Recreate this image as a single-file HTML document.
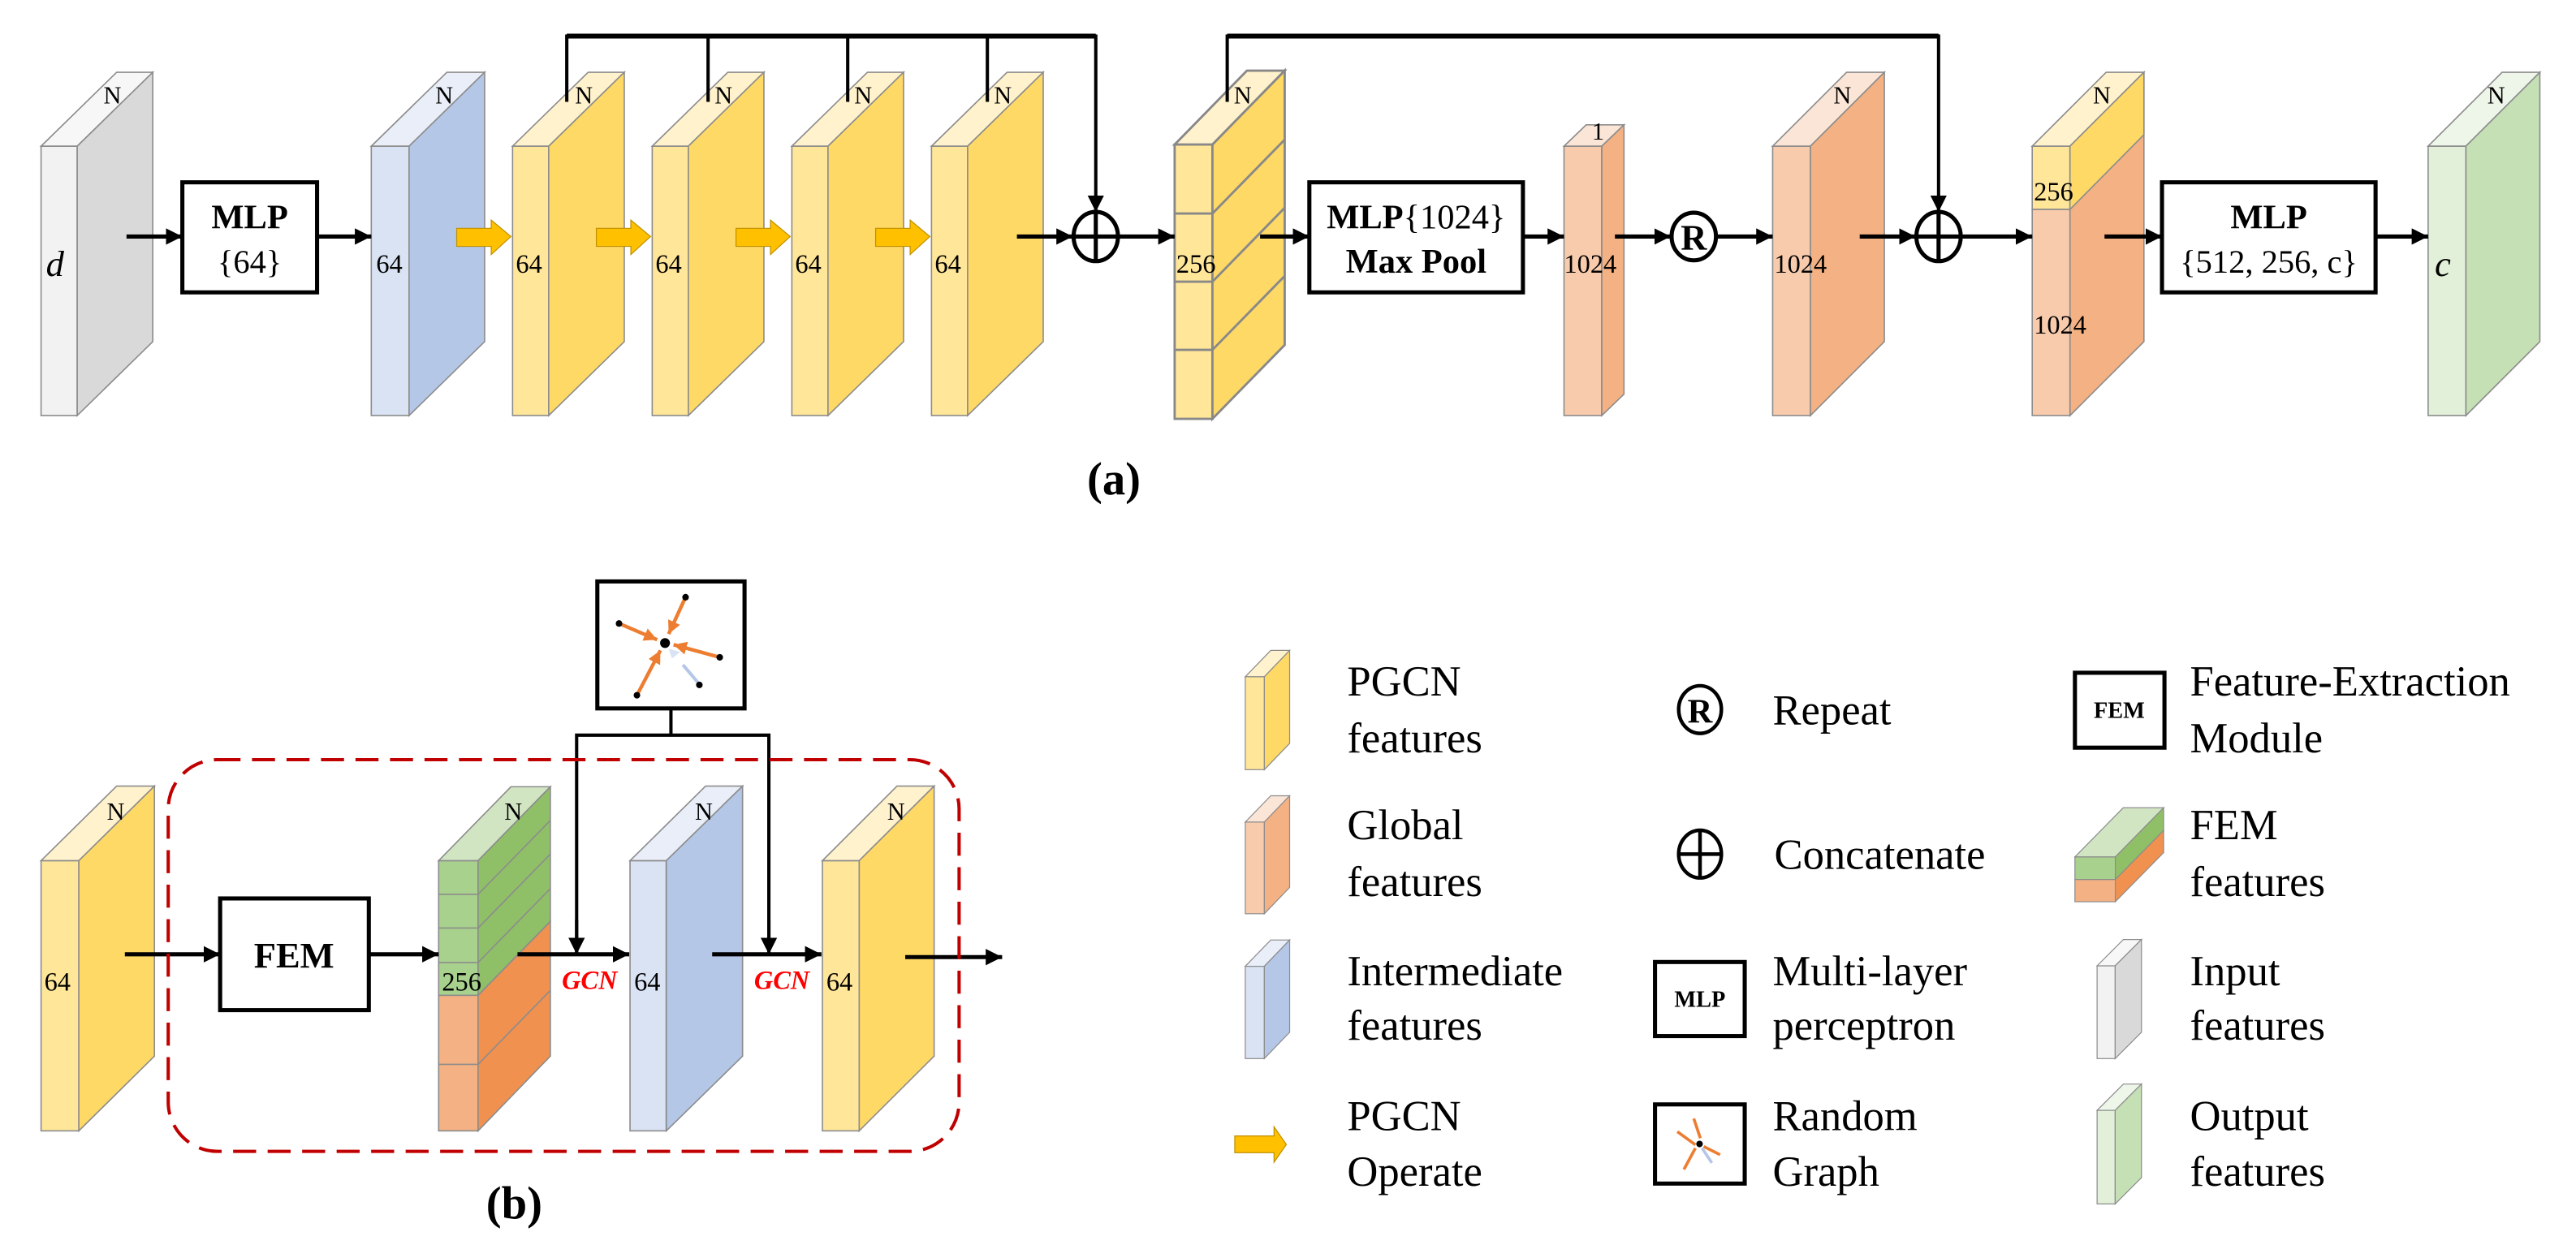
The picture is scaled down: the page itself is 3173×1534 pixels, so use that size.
<!DOCTYPE html>
<html><head><meta charset="utf-8"><style>
html,body{margin:0;padding:0;background:#fff;}
svg{display:block;font-family:"Liberation Serif","Times New Roman",serif;}
svg text{font-family:"Liberation Serif","Times New Roman",serif;}
</style></head><body>
<svg width="3173" height="1534" viewBox="0 0 1568 758" preserveAspectRatio="none" xmlns="http://www.w3.org/2000/svg" font-family="'Liberation Serif', 'Times New Roman', serif">
<defs>
<marker id="ah" markerUnits="userSpaceOnUse" markerWidth="12" markerHeight="12" refX="10" refY="5" orient="auto"><path d="M0,0 L10,5 L0,10 z" fill="#000"/></marker>
<marker id="oh" markerUnits="userSpaceOnUse" markerWidth="10" markerHeight="10" refX="8" refY="4" orient="auto"><path d="M0,0 L8,4 L0,8 z" fill="#ED7D31"/></marker>
</defs>
<g stroke="#8c8c8c" stroke-width="0.8">
<rect x="25" y="89" width="22" height="164" fill="#F2F2F2"/>
<polygon points="25,89 47,89 93,44 71,44" fill="#F7F7F7"/>
<polygon points="47,89 93,44 93,208 47,253" fill="#D9D9D9"/>
<rect x="226" y="89" width="23" height="164" fill="#DAE3F3"/>
<polygon points="226,89 249,89 295,44 272,44" fill="#E9EEF8"/>
<polygon points="249,89 295,44 295,208 249,253" fill="#B4C7E7"/>
<rect x="312" y="89" width="22" height="164" fill="#FFE699"/>
<polygon points="312,89 334,89 380,44 358,44" fill="#FFF2CC"/>
<polygon points="334,89 380,44 380,208 334,253" fill="#FFD966"/>
<rect x="397" y="89" width="22" height="164" fill="#FFE699"/>
<polygon points="397,89 419,89 465,44 443,44" fill="#FFF2CC"/>
<polygon points="419,89 465,44 465,208 419,253" fill="#FFD966"/>
<rect x="482" y="89" width="22" height="164" fill="#FFE699"/>
<polygon points="482,89 504,89 550,44 528,44" fill="#FFF2CC"/>
<polygon points="504,89 550,44 550,208 504,253" fill="#FFD966"/>
<rect x="567" y="89" width="22" height="164" fill="#FFE699"/>
<polygon points="567,89 589,89 635,44 613,44" fill="#FFF2CC"/>
<polygon points="589,89 635,44 635,208 589,253" fill="#FFD966"/>
</g>
<g stroke="#888" stroke-width="1.4">
<rect x="715" y="88" width="23" height="167" fill="#FFE699"/>
<polygon points="715,88 738,88 782,43 759,43" fill="#FFF2CC"/>
<polygon points="738,88 782,43 782,210 738,255" fill="#FFD966"/>
<line x1="715" y1="130" x2="738" y2="130"/><line x1="715" y1="171.5" x2="738" y2="171.5"/><line x1="715" y1="213" x2="738" y2="213"/>
<line x1="738" y1="130" x2="782" y2="85"/><line x1="738" y1="171.5" x2="782" y2="126.5"/><line x1="738" y1="213" x2="782" y2="168"/>
</g>
<g stroke="#8c8c8c" stroke-width="0.8">
<rect x="952" y="89" width="23" height="164" fill="#F8CBAD"/>
<polygon points="952,89 975,89 988.5,76 965.5,76" fill="#FBE5D6"/>
<polygon points="975,89 988.5,76 988.5,240 975,253" fill="#F4B183"/>
<rect x="1079" y="89" width="23" height="164" fill="#F8CBAD"/>
<polygon points="1079,89 1102,89 1147,44 1124,44" fill="#FBE5D6"/>
<polygon points="1102,89 1147,44 1147,208 1102,253" fill="#F4B183"/>
<rect x="1237" y="89" width="23" height="38.5" fill="#FFE699"/>
<rect x="1237" y="127.5" width="23" height="125.5" fill="#F8CBAD"/>
<polygon points="1237,89 1260,89 1305,44 1282,44" fill="#FFF2CC"/>
<polygon points="1260,89 1305,44 1305,208 1260,253" fill="#F4B183"/>
<polygon points="1260,89 1305,44 1305,82 1260,127.5" fill="#FFD966"/>
<rect x="1478" y="89" width="23" height="164" fill="#E2F0D9"/>
<polygon points="1478,89 1501,89 1546,44 1523,44" fill="#EEF5E9"/>
<polygon points="1501,89 1546,44 1546,208 1501,253" fill="#C5E0B4"/>
</g>
<g font-size="15" fill="#000">
<text x="63" y="63">N</text><text x="265" y="63">N</text><text x="350" y="63">N</text><text x="435" y="63">N</text><text x="520" y="63">N</text><text x="605" y="63">N</text><text x="751" y="63">N</text><text x="1116" y="63">N</text><text x="1274" y="63">N</text><text x="1514" y="63">N</text>
<text x="969" y="85">1</text>
</g>
<g font-size="16" fill="#000">
<text x="229" y="166">64</text><text x="314" y="166">64</text><text x="399" y="166">64</text><text x="484" y="166">64</text><text x="569" y="166">64</text>
<text x="716" y="166">256</text><text x="952" y="166">1024</text><text x="1080" y="166">1024</text>
<text x="1238" y="122">256</text><text x="1238" y="203">1024</text>
</g>
<text x="28" y="168" font-size="22" font-style="italic">d</text>
<text x="1482" y="168" font-size="22" font-style="italic">c</text>
<g fill="#fff" stroke="#000" stroke-width="2.5">
<rect x="111" y="111" width="82" height="67"/>
<rect x="797" y="111" width="130" height="67"/>
<rect x="1316" y="111" width="130" height="67"/>
</g>
<text x="152" y="139" font-size="21" font-weight="bold" text-anchor="middle">MLP</text>
<text x="152" y="166" font-size="20" text-anchor="middle">{64}</text>
<text x="862" y="139" font-size="21" text-anchor="middle"><tspan font-weight="bold">MLP</tspan>{1024}</text>
<text x="862" y="166" font-size="21" font-weight="bold" text-anchor="middle">Max Pool</text>
<text x="1381" y="139" font-size="21" font-weight="bold" text-anchor="middle">MLP</text>
<text x="1381" y="166" font-size="20" text-anchor="middle">{512, 256, c}</text>
<g stroke="#000" stroke-width="2.5" fill="none">
<line x1="77" y1="144" x2="111" y2="144" marker-end="url(#ah)"/>
<line x1="193" y1="144" x2="226" y2="144" marker-end="url(#ah)"/>
<line x1="619" y1="144" x2="653" y2="144" marker-end="url(#ah)"/>
<line x1="681" y1="144" x2="715" y2="144" marker-end="url(#ah)"/>
<line x1="767" y1="144" x2="797" y2="144" marker-end="url(#ah)"/>
<line x1="927" y1="144" x2="952" y2="144" marker-end="url(#ah)"/>
<line x1="983" y1="144" x2="1017" y2="144" marker-end="url(#ah)"/>
<line x1="1045" y1="144" x2="1079" y2="144" marker-end="url(#ah)"/>
<line x1="1132" y1="144" x2="1166" y2="144" marker-end="url(#ah)"/>
<line x1="1194" y1="144" x2="1237" y2="144" marker-end="url(#ah)"/>
<line x1="1281" y1="144" x2="1316" y2="144" marker-end="url(#ah)"/>
<line x1="1446" y1="144" x2="1478" y2="144" marker-end="url(#ah)"/>
<polyline points="345,62 345,22 667,22 667,129" stroke-width="2" marker-end="url(#ah)"/>
<line x1="431" y1="22" x2="431" y2="62" stroke-width="2"/>
<line x1="516" y1="22" x2="516" y2="62" stroke-width="2"/>
<line x1="601" y1="22" x2="601" y2="62" stroke-width="2"/>
<line x1="345" y1="22" x2="667" y2="22" stroke-width="3"/>
<polyline points="747,62 747,22 1180,22 1180,129" stroke-width="2" marker-end="url(#ah)"/>
<line x1="747" y1="22" x2="1180" y2="22" stroke-width="3"/>
<ellipse cx="667" cy="144" rx="13.5" ry="15"/>
<line x1="653.5" y1="144" x2="680.5" y2="144"/><line x1="667" y1="129" x2="667" y2="159"/>
<ellipse cx="1180" cy="144" rx="13.5" ry="15"/>
<line x1="1166.5" y1="144" x2="1193.5" y2="144"/><line x1="1180" y1="129" x2="1180" y2="159"/>
<ellipse cx="1031" cy="144" rx="13.5" ry="14.5"/>
</g>
<text x="1031" y="152" font-size="22" font-weight="bold" text-anchor="middle">R</text>
<g fill="#FFC000" stroke="#BF9000" stroke-width="0.6">
<polygon points="278,139 299,139 299,134 311,144 299,155 299,150 278,150"/>
<polygon points="363,139 384,139 384,134 396,144 384,155 384,150 363,150"/>
<polygon points="448,139 469,139 469,134 481,144 469,155 469,150 448,150"/>
<polygon points="533,139 554,139 554,134 566,144 554,155 554,150 533,150"/>
<polygon points="751.6,691.6 775.5,691.6 775.5,686 783,696.8 775.5,707.6 775.5,701.8 751.6,701.8"/>
</g>
<text x="678" y="301" font-size="28" font-weight="bold" text-anchor="middle">(a)</text>

<g stroke="#8c8c8c" stroke-width="0.8">
<rect x="25" y="524" width="23" height="164.5" fill="#FFE699"/>
<polygon points="25,524 48,524 94,478.6 71,478.6" fill="#FFF2CC"/>
<polygon points="48,524 94,478.6 94,643 48,688.5" fill="#FFD966"/>
<rect x="267" y="524" width="24" height="82" fill="#A9D18E"/>
<rect x="267" y="606" width="24" height="82.5" fill="#F4B183"/>
<polygon points="267,524 291,524 335,479 311,479" fill="#D1E5C3"/>
<polygon points="291,524 335,479 335,561 291,606" fill="#8FC068"/>
<polygon points="291,606 335,561 335,643 291,688.5" fill="#F09150"/>
<line x1="267" y1="544.5" x2="291" y2="544.5"/><line x1="267" y1="565" x2="291" y2="565"/><line x1="267" y1="586" x2="291" y2="586"/><line x1="267" y1="648" x2="291" y2="648"/>
<line x1="291" y1="544.5" x2="335" y2="499.5"/><line x1="291" y1="565" x2="335" y2="520"/><line x1="291" y1="586" x2="335" y2="541"/><line x1="291" y1="648" x2="335" y2="603"/>
<rect x="383.5" y="524" width="22" height="164.5" fill="#DAE3F3"/>
<polygon points="383.5,524 405.6,524 452,478.6 429.5,478.6" fill="#E9EEF8"/>
<polygon points="405.6,524 452,478.6 452,643 405.6,688.5" fill="#B4C7E7"/>
<rect x="500.6" y="524" width="22.4" height="164.5" fill="#FFE699"/>
<polygon points="500.6,524 523,524 568.6,478.6 546,478.6" fill="#FFF2CC"/>
<polygon points="523,524 568.6,478.6 568.6,643 523,688.5" fill="#FFD966"/>
</g>
<g font-size="15"><text x="65" y="499">N</text><text x="307" y="499">N</text><text x="423" y="499">N</text><text x="540" y="499">N</text></g>
<g font-size="16"><text x="27" y="603">64</text><text x="269" y="603">256</text><text x="386" y="603">64</text><text x="503" y="603">64</text></g>
<g font-size="16" font-weight="bold" font-style="italic" fill="#FF0000"><text x="342" y="602">GCN</text><text x="459" y="602">GCN</text></g>
<rect x="134" y="547" width="90.5" height="68" fill="#fff" stroke="#000" stroke-width="2.5"/>
<text x="179" y="589" font-size="22" font-weight="bold" text-anchor="middle">FEM</text>
<g stroke="#000" stroke-width="2.5" fill="none">
<line x1="76" y1="581" x2="134" y2="581" marker-end="url(#ah)"/>
<line x1="224.5" y1="581" x2="267" y2="581" marker-end="url(#ah)"/>
<line x1="315" y1="581" x2="383" y2="581" marker-end="url(#ah)"/>
<line x1="433.5" y1="581" x2="500" y2="581" marker-end="url(#ah)"/>
<line x1="551" y1="582.7" x2="610" y2="582.7" marker-end="url(#ah)"/>
<line x1="408.4" y1="432" x2="408.4" y2="447.6" stroke-width="2"/>
<polyline points="351,581 351,447.6 468,447.6 468,581" stroke-width="2"/>
<line x1="351" y1="560" x2="351" y2="581" stroke-width="2" marker-end="url(#ah)"/>
<line x1="468" y1="560" x2="468" y2="581" stroke-width="2" marker-end="url(#ah)"/>
<rect x="363.6" y="354" width="89.6" height="77.3" fill="#fff" stroke-width="2.5"/>
</g>
<g stroke="#ED7D31" stroke-width="2.2">
<line x1="417.3" y1="363.6" x2="407" y2="386" marker-end="url(#oh)"/>
<line x1="376.8" y1="379.6" x2="400" y2="389.5" marker-end="url(#oh)"/>
<line x1="438.1" y1="400.2" x2="410" y2="392.5" marker-end="url(#oh)"/>
<line x1="387.7" y1="423.3" x2="402" y2="396" marker-end="url(#oh)"/>
</g>
<line x1="415.7" y1="404.8" x2="425" y2="415.7" stroke="#B4C7E7" stroke-width="2"/>
<polygon points="407,395 414,397 409,401" fill="#DAE3F3"/>
<g fill="#000"><circle cx="404.8" cy="391.5" r="3"/><circle cx="417.3" cy="363.6" r="2"/><circle cx="376.8" cy="379.6" r="2"/><circle cx="438.1" cy="400.2" r="2"/><circle cx="387.7" cy="423.3" r="2"/><circle cx="425.7" cy="417" r="2"/></g>
<rect x="102.4" y="462.5" width="481.4" height="238.5" rx="30" ry="30" fill="none" stroke="#C00000" stroke-width="2" stroke-dasharray="14,7"/>
<text x="313" y="742" font-size="28" font-weight="bold" text-anchor="middle">(b)</text>

<g stroke="#8c8c8c" stroke-width="0.6">
<rect x="758" y="412" width="11.6" height="56.6" fill="#FFE699"/>
<polygon points="758,412 769.6,412 785,396 773.5,396" fill="#FFF2CC"/>
<polygon points="769.6,412 785,396 785,452.6 769.6,468.6" fill="#FFD966"/>
<rect x="758" y="500.5" width="11.6" height="55.8" fill="#F8CBAD"/>
<polygon points="758,500.5 769.6,500.5 785,484.5 773.5,484.5" fill="#FBE5D6"/>
<polygon points="769.6,500.5 785,484.5 785,540.3 769.6,556.3" fill="#F4B183"/>
<rect x="758" y="588.3" width="11.6" height="56.2" fill="#DAE3F3"/>
<polygon points="758,588.3 769.6,588.3 785,572.3 773.5,572.3" fill="#E9EEF8"/>
<polygon points="769.6,588.3 785,572.3 785,628.5 769.6,644.5" fill="#B4C7E7"/>
<rect x="1276.5" y="588" width="11" height="56.5" fill="#F2F2F2"/>
<polygon points="1276.5,588 1287.5,588 1303.5,572 1292.5,572" fill="#F7F7F7"/>
<polygon points="1287.5,588 1303.5,572 1303.5,628.5 1287.5,644.5" fill="#D9D9D9"/>
<rect x="1276.5" y="676" width="11" height="57" fill="#E2F0D9"/>
<polygon points="1276.5,676 1287.5,676 1303.5,660 1292.5,660" fill="#EEF5E9"/>
<polygon points="1287.5,676 1303.5,660 1303.5,717 1287.5,733" fill="#C5E0B4"/>
<rect x="1263" y="521.7" width="24.6" height="13.8" fill="#A9D18E"/>
<rect x="1263" y="535.5" width="24.6" height="13.5" fill="#F4B183"/>
<polygon points="1263,521.7 1287.6,521.7 1317,491.8 1292.4,491.8" fill="#D1E5C3"/>
<polygon points="1287.6,521.7 1317,491.8 1317,505.6 1287.6,535.5" fill="#8FC068"/>
<polygon points="1287.6,535.5 1317,505.6 1317,519.1 1287.6,549" fill="#F09150"/>
</g>
<g fill="none" stroke="#000" stroke-width="2.2">
<ellipse cx="1034.8" cy="432" rx="13" ry="14.5"/>
<ellipse cx="1034.8" cy="520" rx="13" ry="14.5"/>
<line x1="1021.8" y1="520" x2="1047.8" y2="520"/><line x1="1034.8" y1="505.5" x2="1034.8" y2="534.5"/>
<rect x="1007.4" y="585.7" width="54.6" height="45.1" stroke-width="2.5"/>
<rect x="1007.4" y="672.4" width="54.6" height="48.2" stroke-width="2.5"/>
<rect x="1263" y="409.6" width="54.5" height="45.6" stroke-width="2.5"/>
</g>
<text x="1034.8" y="440" font-size="21" font-weight="bold" text-anchor="middle">R</text>
<text x="1034.7" y="613" font-size="14" font-weight="bold" text-anchor="middle">MLP</text>
<text x="1290" y="437" font-size="14" font-weight="bold" text-anchor="middle">FEM</text>
<g stroke="#ED7D31" stroke-width="1.8">
<line x1="1031" y1="681" x2="1035" y2="693"/><line x1="1021" y1="689" x2="1032" y2="697"/><line x1="1047" y1="703" x2="1037" y2="698"/><line x1="1025" y1="712" x2="1032" y2="699"/>
</g>
<line x1="1036" y1="699" x2="1042" y2="708" stroke="#B4C7E7" stroke-width="1.8"/>
<circle cx="1034.5" cy="696.5" r="2" fill="#000"/>
<g font-size="26" fill="#000">
<text x="820" y="423.5">PGCN</text><text x="820" y="458">features</text>
<text x="820" y="511">Global</text><text x="820" y="545.5">features</text>
<text x="820" y="600">Intermediate</text><text x="820" y="633">features</text>
<text x="820" y="688">PGCN</text><text x="820" y="722">Operate</text>
<text x="1079" y="441">Repeat</text>
<text x="1080" y="529">Concatenate</text>
<text x="1079" y="600">Multi-layer</text><text x="1079" y="633">perceptron</text>
<text x="1079" y="688">Random</text><text x="1079" y="722">Graph</text>
<text x="1333" y="423.5">Feature-Extraction</text><text x="1333" y="458">Module</text>
<text x="1333" y="511">FEM</text><text x="1333" y="545.5">features</text>
<text x="1333" y="600">Input</text><text x="1333" y="633">features</text>
<text x="1333" y="688">Output</text><text x="1333" y="722">features</text>
</g>
</svg>
</body></html>
